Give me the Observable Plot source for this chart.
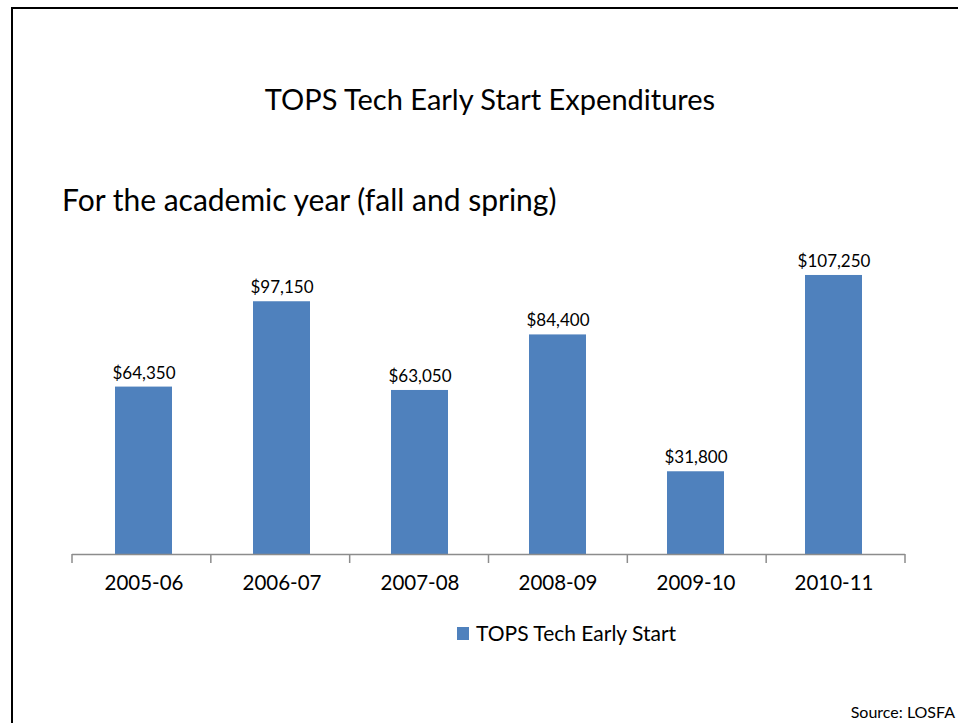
<!DOCTYPE html>
<html><head><meta charset="utf-8">
<script src="https://cdn.jsdelivr.net/npm/d3@7"></script>
<script src="https://cdn.jsdelivr.net/npm/@observablehq/plot@0.6"></script>
<style>
body{margin:0;background:#fff;font-family:Lato,"Open Sans",sans-serif;color:#000;}
#wrap{position:relative;width:958px;height:723px;overflow:hidden;background:#fff;}
#frame{position:absolute;left:11px;top:7px;width:1000px;height:800px;border-left:2px solid #000;border-top:2px solid #000;}
#chart{position:absolute;left:0;top:0;}
#title{position:absolute;top:82px;left:0;width:980px;text-align:center;font-size:29px;line-height:34px;}
#subtitle{position:absolute;top:181px;left:62px;font-size:30px;line-height:36px;white-space:nowrap;}
#legend{position:absolute;top:619px;left:457px;font-size:21px;line-height:28px;white-space:nowrap;display:flex;align-items:center;}
#legend span.sw{display:inline-block;width:12px;height:13px;background:#4f81bd;margin-right:7px;}
#source{position:absolute;top:702px;right:3px;font-size:16px;line-height:20px;white-space:nowrap;}
</style>
</head><body>
<div id="wrap">
  <div id="frame"></div>
  <div id="chart"></div>
  <div id="title">TOPS Tech Early Start Expenditures</div>
  <div id="subtitle">For the academic year (fall and spring)</div>
  <div id="legend"><span class="sw"></span><span>TOPS Tech Early Start</span></div>
  <div id="source">Source: LOSFA</div>
</div>
<script>
const years = ["2005-06","2006-07","2007-08","2008-09","2009-10","2010-11"];
const expenditures = [64350, 97150, 63050, 84400, 31800, 107250];
const valueLabels = ["$64,350","$97,150","$63,050","$84,400","$31,800","$107,250"];

const data = years.map((y, i) => ({year: y, value: expenditures[i], label: valueLabels[i]}));

const boundaryTicks = (index, scales, values, dims) => {
  const {width, marginLeft, marginRight} = dims;
  const step = (width - marginLeft - marginRight) / years.length;
  const y0 = scales.y(0);
  const g = d3.create("svg:g").attr("stroke", "#8c8c8c").attr("stroke-width", 1.5);
  for (let k = 0; k <= years.length; k++) {
    const x = marginLeft + k * step;
    g.append("line").attr("x1", x).attr("x2", x).attr("y1", y0).attr("y2", y0 + 9);
  }
  return g.node();
};

const chart = Plot.plot({
  width: 958,
  height: 723,
  marginLeft: 72,
  marginRight: 53,
  marginTop: 241.8,
  marginBottom: 169,
  style: {fontFamily: "Lato, 'Open Sans', sans-serif", background: "transparent", overflow: "visible"},
  x: {domain: years, paddingInner: 0.59, paddingOuter: 0.295, label: null},
  y: {domain: [0, 120000], axis: null},
  marks: [
    Plot.barY(data, {x: "year", y: "value", fill: "#4f81bd"}),
    Plot.ruleY([0], {stroke: "#8c8c8c", strokeWidth: 1.5}),
    boundaryTicks,
    Plot.axisX({tickSize: 0, tickPadding: 21, fontSize: 20.5, fill: "#000", label: null}),
    Plot.text(data, {x: "year", y: "value", text: "label", dy: -14, fontSize: 17, fill: "#000"})
  ]
});
document.getElementById("chart").appendChild(chart);
</script>
</body></html>
